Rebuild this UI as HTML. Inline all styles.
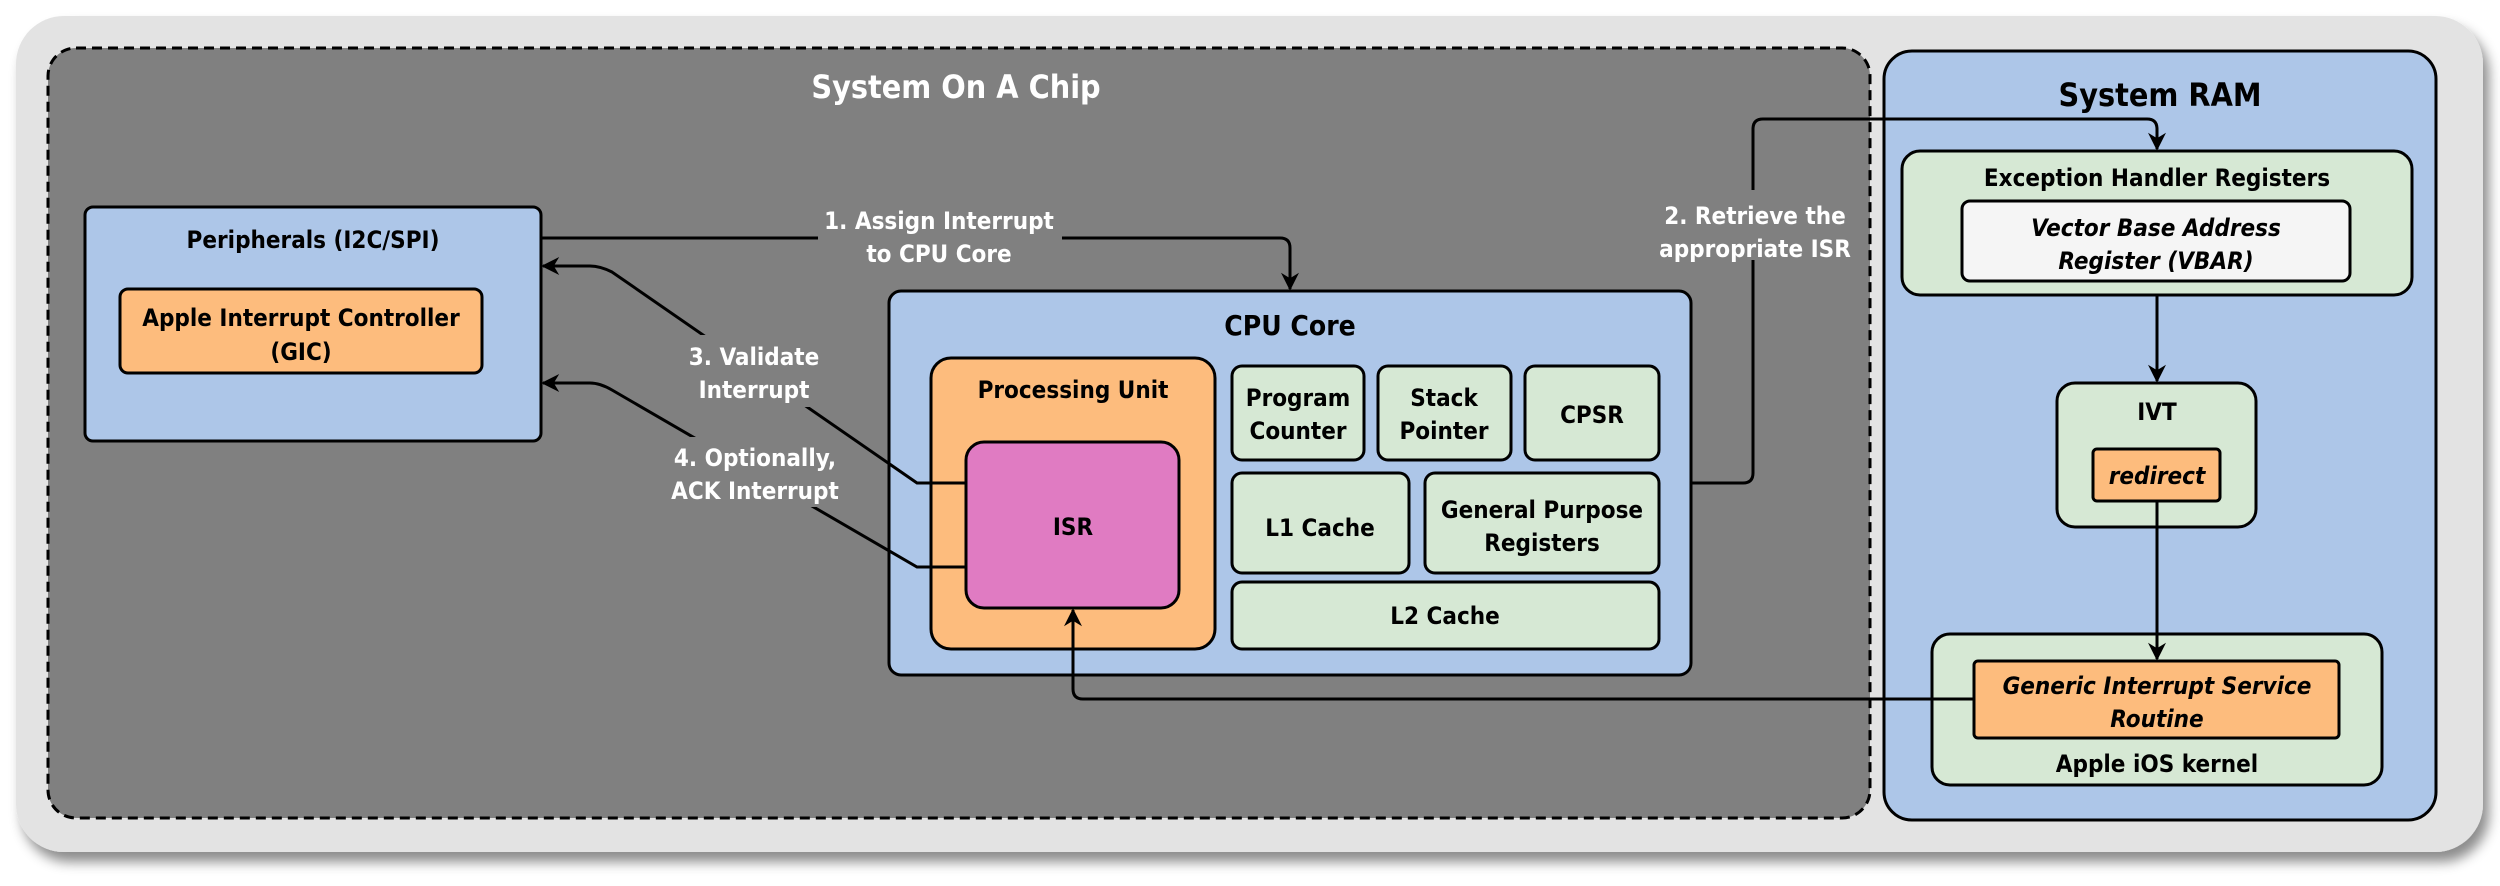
<!DOCTYPE html>
<html><head><meta charset="utf-8"><style>
html,body{margin:0;padding:0;background:#fff;}
svg{display:block;}
text{font-family:"DejaVu Sans Condensed","Liberation Sans Narrow","Liberation Sans",sans-serif;font-weight:bold;}
</style></head><body>
<svg width="2500" height="886" viewBox="0 0 2500 886" xmlns="http://www.w3.org/2000/svg">
<defs>
<marker id="ah" viewBox="0 0 10 10" refX="9" refY="5" markerWidth="20" markerHeight="18" orient="auto-start-reverse" markerUnits="userSpaceOnUse">
<path d="M0,0 L10,5 L0,10 L3,5 Z" fill="#000"/></marker>
<filter id="sh" x="-5%" y="-5%" width="110%" height="115%"><feDropShadow dx="6" dy="10" stdDeviation="6" flood-color="#000" flood-opacity="0.45"/></filter>
</defs>
<rect x="16" y="16" width="2467" height="836" rx="48" fill="#e3e3e3" filter="url(#sh)"/>
<rect x="48" y="48" width="1822" height="770" rx="28" fill="#808080" stroke="#000" stroke-width="3" stroke-dasharray="10,6"/>
<text x="956" y="98" font-size="32" fill="#fff" text-anchor="middle">System On A Chip</text>
<rect x="1884" y="51" width="552" height="769" rx="28" fill="#adc6e8" stroke="#000" stroke-width="3"/>
<text x="2160" y="106" font-size="32" fill="#000" text-anchor="middle">System RAM</text>

<rect x="85" y="207" width="456" height="234" rx="8" fill="#adc6e8" stroke="#000" stroke-width="3"/>
<text x="313" y="248" font-size="24" text-anchor="middle">Peripherals (I2C/SPI)</text>
<rect x="120" y="289" width="362" height="84" rx="8" fill="#fdbc7d" stroke="#000" stroke-width="3"/>
<text x="301" y="326" font-size="24" text-anchor="middle">Apple Interrupt Controller</text>
<text x="301" y="360" font-size="24" text-anchor="middle">(GIC)</text>

<rect x="889" y="291" width="802" height="384" rx="12" fill="#adc6e8" stroke="#000" stroke-width="3"/>
<text x="1290" y="335" font-size="28" text-anchor="middle">CPU Core</text>
<rect x="931" y="358" width="284" height="291" rx="20" fill="#fdbc7d" stroke="#000" stroke-width="3"/>
<text x="1073" y="398" font-size="24" text-anchor="middle">Processing Unit</text>
<rect x="966" y="442" width="213" height="166" rx="18" fill="#e07bc2" stroke="#000" stroke-width="3"/>
<text x="1073" y="535" font-size="24" text-anchor="middle">ISR</text>

<g fill="#d6e8d4" stroke="#000" stroke-width="3">
<rect x="1232" y="366" width="132" height="94" rx="10"/>
<rect x="1378" y="366" width="133" height="94" rx="10"/>
<rect x="1525" y="366" width="134" height="94" rx="10"/>
<rect x="1232" y="473" width="177" height="100" rx="10"/>
<rect x="1425" y="473" width="234" height="100" rx="10"/>
<rect x="1232" y="582" width="427" height="67" rx="10"/>
</g>
<g font-size="24" text-anchor="middle">
<text x="1298" y="406">Program</text><text x="1298" y="439">Counter</text>
<text x="1444" y="406">Stack</text><text x="1444" y="439">Pointer</text>
<text x="1592" y="423">CPSR</text>
<text x="1320" y="536">L1 Cache</text>
<text x="1542" y="518">General Purpose</text><text x="1542" y="551">Registers</text>
<text x="1445" y="624">L2 Cache</text>
</g>

<rect x="1902" y="151" width="510" height="144" rx="18" fill="#d6e8d4" stroke="#000" stroke-width="3"/>
<text x="2157" y="186" font-size="24" text-anchor="middle">Exception Handler Registers</text>
<rect x="1962" y="201" width="388" height="80" rx="8" fill="#f5f5f5" stroke="#000" stroke-width="3"/>
<text x="2156" y="236" font-size="24" font-style="italic" text-anchor="middle">Vector Base Address</text>
<text x="2156" y="269" font-size="24" font-style="italic" text-anchor="middle">Register (VBAR)</text>

<rect x="2057" y="383" width="199" height="144" rx="18" fill="#d6e8d4" stroke="#000" stroke-width="3"/>
<text x="2157" y="420" font-size="24" text-anchor="middle">IVT</text>
<rect x="2093" y="449" width="127" height="52" rx="4" fill="#fdbc7d" stroke="#000" stroke-width="3"/>
<text x="2157" y="484" font-size="24" font-style="italic" text-anchor="middle">redirect</text>

<rect x="1932" y="634" width="450" height="151" rx="18" fill="#d6e8d4" stroke="#000" stroke-width="3"/>
<rect x="1974" y="661" width="365" height="77" rx="4" fill="#fdbc7d" stroke="#000" stroke-width="3"/>
<text x="2157" y="694" font-size="24" font-style="italic" text-anchor="middle">Generic Interrupt Service</text>
<text x="2157" y="727" font-size="24" font-style="italic" text-anchor="middle">Routine</text>
<text x="2157" y="772" font-size="24" text-anchor="middle">Apple iOS kernel</text>

<g fill="none" stroke="#000" stroke-width="3">
<path d="M541,238 H1280 Q1290,238 1290,248 V289" marker-end="url(#ah)"/>
<path d="M1691,483 H1743 Q1753,483 1753,473 V129 Q1753,119 1763,119 H2147 Q2157,119 2157,129 V149" marker-end="url(#ah)"/>
<path d="M2157,295 V381" marker-end="url(#ah)"/>
<path d="M2157,501 V659" marker-end="url(#ah)"/>
<path d="M1974,699 H1083 Q1073,699 1073,689 V610" marker-end="url(#ah)"/>
<path d="M966,483 H917 L612,272 Q600,266 590,266 H543" marker-end="url(#ah)"/>
<path d="M966,567 H917 L612,390 Q600,383 590,383 H543" marker-end="url(#ah)"/>
</g>
<g fill="#808080">
<rect x="818" y="198" width="244" height="68"/>
<rect x="1660" y="190" width="190" height="70"/>
<rect x="675" y="335" width="160" height="72"/>
<rect x="665" y="437" width="180" height="70"/>
</g>
<g font-size="24" fill="#fff" text-anchor="middle">
<text x="939" y="229">1. Assign Interrupt</text><text x="939" y="262">to CPU Core</text>
<text x="1755" y="224">2. Retrieve the</text><text x="1755" y="257">appropriate ISR</text>
<text x="754" y="365">3. Validate</text><text x="754" y="398">Interrupt</text>
<text x="755" y="466">4. Optionally,</text><text x="755" y="499">ACK Interrupt</text>
</g>
</svg>
</body></html>
